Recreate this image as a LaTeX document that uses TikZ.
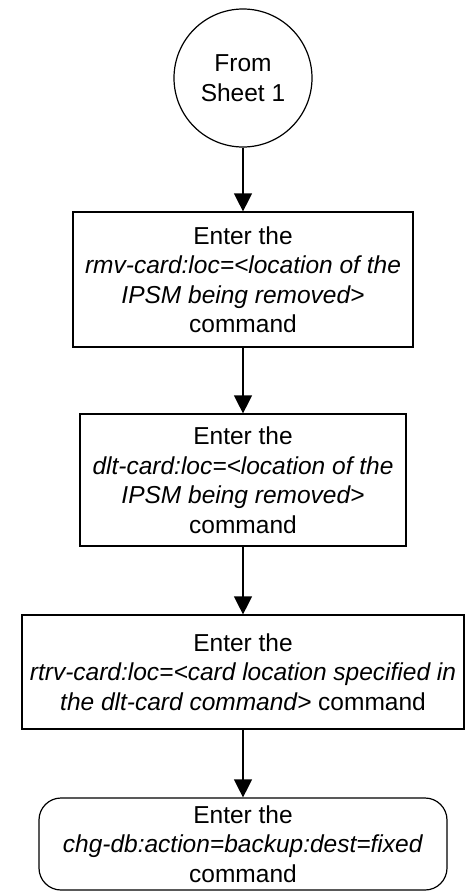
\documentclass[tikz,border=0pt]{standalone}
\usepackage{fontspec}
\setmainfont{Liberation Sans}
\usetikzlibrary{arrows.meta}

\tikzset{
  flowtext/.style={font=\fontsize{24.5}{29.5}\selectfont, align=center},
  stepbox/.style={draw, line width=1.2pt, flowtext, inner sep=0pt},
  sheetref/.style={draw, circle, line width=1.2pt, flowtext, minimum size=138pt, inner sep=0pt},
  flow/.style={-{Triangle[length=18pt, width=18pt]}, line width=1.2pt},
}

\begin{document}
\begin{tikzpicture}[x=1pt, y=-1pt]
  \useasboundingbox (0,0) rectangle (465,892);

  % off-page connector
  \node[sheetref] (sheet1) at (243,78) {From\\Sheet 1};

  % remove, delete, check
  \node[stepbox, minimum width=340pt, minimum height=135pt] (rmvcard) at (243,279.5)
    {Enter the\\\textit{rmv-card:loc=<location of the}\\\textit{IPSM being removed>}\\command};
  \node[stepbox, minimum width=326pt, minimum height=132pt] (dltcard) at (243,480)
    {Enter the\\\textit{dlt-card:loc=<location of the}\\\textit{IPSM being removed>}\\command};
  \node[stepbox, minimum width=442pt, minimum height=114pt] (rtrvcard) at (243,672)
    {Enter the\\\textit{rtrv-card:loc=<card location specified in}\\\textit{the dlt-card command>} command};

  % backup
  \node[stepbox, rounded corners=22pt, minimum width=408pt, minimum height=92pt] (chgdb) at (243,844)
    {Enter the\\\textit{chg-db:action=backup:dest=fixed}\\command};

  \draw[flow] (sheet1.south) -- (rmvcard.north);
  \draw[flow] (rmvcard.south) -- (dltcard.north);
  \draw[flow] (dltcard.south) -- (rtrvcard.north);
  \draw[flow] (rtrvcard.south) -- (chgdb.north);
\end{tikzpicture}
\end{document}
